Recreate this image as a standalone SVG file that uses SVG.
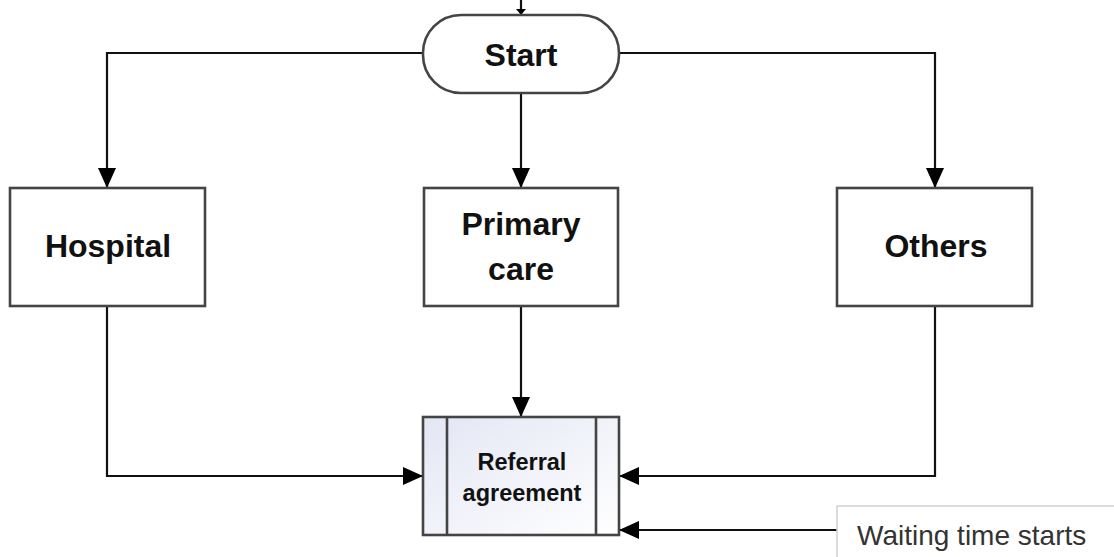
<svg xmlns="http://www.w3.org/2000/svg" width="1114" height="557" viewBox="0 0 1114 557">
  <style>
    .box { fill: #ffffff; stroke: #444444; stroke-width: 2.6; }
    .label { font-family: "Liberation Sans", Arial, sans-serif; font-weight: bold; fill: #111111; text-anchor: middle; }
    .big { font-size: 32px; }
    .small { font-size: 23.5px; }
    .wire { fill: none; stroke: #111111; stroke-width: 2.2; }
    .note { font-family: "Liberation Sans", Arial, sans-serif; font-size: 28px; fill: #333333; }
  </style>
  <defs>
    <marker id="arrow" viewBox="0 0 20 18" refX="20" refY="9" markerWidth="20" markerHeight="18" markerUnits="userSpaceOnUse" orient="auto">
      <path d="M0,0 L20,9 L0,18 Z" fill="#000000"/>
    </marker>
    <linearGradient id="subFill" x1="0" y1="0" x2="1" y2="1">
      <stop offset="0" stop-color="#e3e6f4"/>
      <stop offset="1" stop-color="#ffffff"/>
    </linearGradient>
  </defs>

  <rect width="1114" height="557" fill="#ffffff"/>

  <!-- connectors -->
  <g id="connectors">
    <path class="wire" d="M521,0 V9" stroke-width="1.2"/>
    <path d="M516,9 L526,9 L521,15 Z" fill="#000000"/>
    <path class="wire" d="M423,53 H107 V188" marker-end="url(#arrow)"/>
    <path class="wire" d="M521,93 V188" marker-end="url(#arrow)"/>
    <path class="wire" d="M619,53 H935 V188" marker-end="url(#arrow)"/>
    <path class="wire" d="M107,306 V476 H423" marker-end="url(#arrow)"/>
    <path class="wire" d="M521,306 V417" marker-end="url(#arrow)"/>
    <path class="wire" d="M935,306 V476 H619" marker-end="url(#arrow)"/>
    <path class="wire" d="M837,530 H619" marker-end="url(#arrow)"/>
  </g>

  <!-- terminator -->
  <g id="start">
    <rect class="box" x="423" y="15" width="196" height="78" rx="38" ry="38"/>
    <text class="label big" x="521" y="66">Start</text>
  </g>

  <!-- sources -->
  <g id="hospital">
    <rect class="box" x="10" y="188" width="195" height="118"/>
    <text class="label big" x="108" y="257">Hospital</text>
  </g>
  <g id="primary-care">
    <rect class="box" x="424" y="188" width="194" height="118"/>
    <text class="label big" x="521" y="235">Primary</text>
    <text class="label big" x="521" y="280">care</text>
  </g>
  <g id="others">
    <rect class="box" x="837" y="188" width="195" height="118"/>
    <text class="label big" x="936" y="257">Others</text>
  </g>

  <!-- predefined process -->
  <g id="referral-agreement">
    <rect x="423" y="417" width="196" height="118" fill="url(#subFill)" stroke="#444444" stroke-width="2.6"/>
    <line x1="447" y1="417" x2="447" y2="535" stroke="#444444" stroke-width="2.6"/>
    <line x1="596" y1="417" x2="596" y2="535" stroke="#444444" stroke-width="2.6"/>
    <text class="label small" x="522" y="470">Referral</text>
    <text class="label small" x="522" y="501">agreement</text>
  </g>

  <!-- annotation -->
  <g id="waiting-time">
    <rect x="837" y="506" width="300" height="70" fill="#ffffff" stroke="#cfcfcf" stroke-width="1.5"/>
    <text class="note" x="857" y="545">Waiting time starts</text>
  </g>
</svg>
